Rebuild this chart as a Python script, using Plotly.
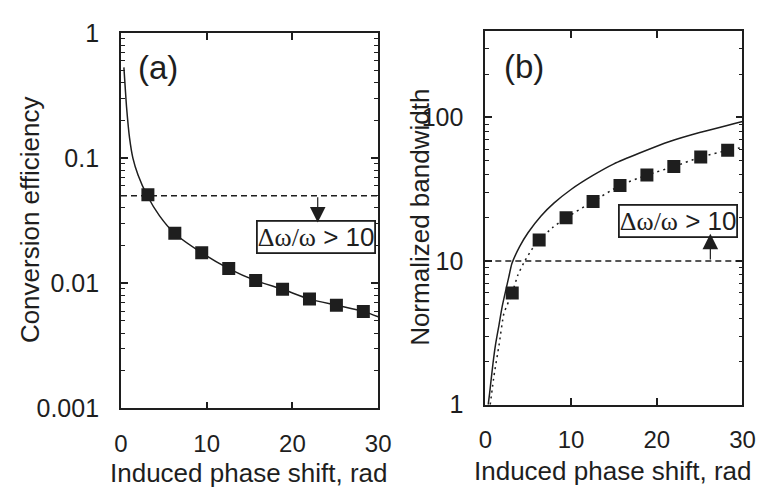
import numpy as np
import plotly.graph_objects as go

# ---------------- data ----------------
# Panel (a): conversion efficiency
a_curve_x = [0.34, 0.5, 0.65, 1.0, 1.39, 2.0, 3.07, 4.5, 6.2, 9.42, 12.57, 15.71, 18.85, 21.99, 25.13, 28.27, 30.0]
a_curve_y = [0.53, 0.36, 0.256, 0.145, 0.10, 0.073, 0.050, 0.0345, 0.0252, 0.0175, 0.0131, 0.0105, 0.00895, 0.00747, 0.00667, 0.00596, 0.0054]
a_sq_x = [3.14, 6.28, 9.42, 12.57, 15.71, 18.85, 21.99, 25.13, 28.27]
a_sq_y = [0.0509, 0.0251, 0.0175, 0.0131, 0.0105, 0.00895, 0.00747, 0.00667, 0.00596]
a_limit = 0.05

# Panel (b): normalized bandwidth
b_solid_x = [0.34, 0.5, 0.65, 0.9, 1.2, 1.6, 1.97, 2.4, 2.73, 3.1, 4.0, 5.0, 6.5, 8.0, 10.0, 12.5, 15.0, 18.0, 21.5, 25.0, 30.0]
b_solid_y = [1.0, 1.2, 1.44, 1.95, 2.64, 3.6, 4.83, 6.3, 7.7, 9.6, 12.6, 15.8, 20.6, 25.3, 31.5, 39.3, 47.5, 56.5, 68.0, 78.5, 93.7]
b_dot_x = [0.57, 1.02, 1.6, 2.16, 2.7, 3.14, 3.8, 4.6, 5.4, 6.28, 7.8, 9.42, 12.57, 15.71, 18.85, 21.99, 25.13, 28.27, 30.0]
b_dot_y = [1.0, 1.6, 2.6, 4.3, 5.2, 6.0, 8.0, 10.0, 12.0, 14.0, 17.0, 20.0, 26.0, 33.6, 39.7, 45.5, 53.0, 59.0, 61.8]
b_sq_x = [3.14, 6.28, 9.42, 12.57, 15.71, 18.85, 21.99, 25.13, 28.27]
b_sq_y = [6.0, 14.0, 20.0, 26.0, 33.6, 39.7, 45.5, 53.0, 59.0]
b_limit = 10

x_ticks = [0, 10, 20, 30]
a_yticks = [0.001, 0.01, 0.1, 1]
a_yticktext = ["0.001", "0.01", "0.1", "1"]
b_yticks = [1, 10, 100]
b_yticktext = ["1", "10", "100"]

W, H = 774, 497
INK = "#1e1e1e"
FONT = "Liberation Sans, Arial, sans-serif"

fig = go.Figure()

# panel (a)
fig.add_trace(go.Scatter(x=a_curve_x, y=a_curve_y, mode="lines", line=dict(color=INK, width=1.5, shape="spline", smoothing=0.6),
                         xaxis="x", yaxis="y", showlegend=False))
fig.add_trace(go.Scatter(x=[0, 30], y=[a_limit, a_limit], mode="lines", line=dict(color=INK, width=1.5, dash="6px,4px"),
                         xaxis="x", yaxis="y", showlegend=False))
fig.add_trace(go.Scatter(x=a_sq_x, y=a_sq_y, mode="markers", marker=dict(symbol="square", size=13, color=INK),
                         xaxis="x", yaxis="y", showlegend=False))

# panel (b)
fig.add_trace(go.Scatter(x=b_solid_x, y=b_solid_y, mode="lines", line=dict(color=INK, width=1.5, shape="spline", smoothing=0.5),
                         xaxis="x2", yaxis="y2", showlegend=False))
fig.add_trace(go.Scatter(x=b_dot_x, y=b_dot_y, mode="lines", line=dict(color=INK, width=1.5, dash="2px,4px", shape="spline", smoothing=0.5),
                         xaxis="x2", yaxis="y2", showlegend=False))
fig.add_trace(go.Scatter(x=[0, 30], y=[b_limit, b_limit], mode="lines", line=dict(color=INK, width=1.5, dash="6px,4px"),
                         xaxis="x2", yaxis="y2", showlegend=False))
fig.add_trace(go.Scatter(x=b_sq_x, y=b_sq_y, mode="markers", marker=dict(symbol="square", size=13, color=INK),
                         xaxis="x2", yaxis="y2", showlegend=False))

def minor_vals(decades):
    out = []
    for d in decades:
        for m in range(2, 10):
            out.append(m * d)
    return out

common_x = dict(range=[0, 30], tickvals=x_ticks, ticks="inside", ticklen=7, tickwidth=1.5, tickcolor=INK,
                showline=True, linewidth=1.8, linecolor=INK, mirror="allticks", showgrid=False, zeroline=False,
                tickfont=dict(size=24, color=INK, family=FONT), ticklabelstandoff=13)
common_y = dict(type="log", ticks="inside", ticklen=7, tickwidth=1.5, tickcolor=INK,
                showline=True, linewidth=1.8, linecolor=INK, mirror="allticks", showgrid=False, zeroline=False,
                tickfont=dict(size=25, color=INK, family=FONT), ticklabelstandoff=15)

fig.update_layout(
    width=W, height=H, margin=dict(l=0, r=0, t=0, b=0),
    paper_bgcolor="white", plot_bgcolor="white",
    font=dict(family=FONT, color=INK),
    xaxis=dict(domain=[117 / W, 381 / W], anchor="y", **common_x),
    yaxis=dict(domain=[1 - 418 / H, 1 - 20 / H], anchor="x", range=[-3, 0], tickvals=a_yticks, ticktext=a_yticktext,
               minor=dict(tickvals=minor_vals([0.001, 0.01, 0.1]), ticks="inside", ticklen=4, tickwidth=1.2, tickcolor=INK),
               **common_y),
    xaxis2=dict(domain=[491 / W, 755 / W], anchor="y2", **common_x),
    yaxis2=dict(domain=[1 - 414 / H, 1 - 18 / H], anchor="x2", range=[0, np.log10(400)], tickvals=b_yticks, ticktext=b_yticktext,
                minor=dict(tickvals=minor_vals([1, 10]) + [200, 300], ticks="inside", ticklen=4, tickwidth=1.2, tickcolor=INK),
                **common_y),
)

box_text = '<span style="font-family:Liberation Serif, Times New Roman, serif">Δω/ω</span> &gt; 10'
ann = []
# panel labels
ann.append(dict(text="(a)", x=155 / W, y=1 - 57 / H, xref="paper", yref="paper", showarrow=False,
                font=dict(size=33, color=INK, family=FONT), xanchor="center", yanchor="middle"))
ann.append(dict(text="(b)", x=531 / W, y=1 - 56 / H, xref="paper", yref="paper", showarrow=False,
                font=dict(size=33, color=INK, family=FONT), xanchor="center", yanchor="middle"))
# axis titles
ann.append(dict(text="Induced phase shift, rad", x=248 / W, y=1 - 486 / H, xref="paper", yref="paper", showarrow=False,
                font=dict(size=26, color=INK, family=FONT), xanchor="center", yanchor="middle", borderpad=0))
ann.append(dict(text="Induced phase shift, rad", x=622 / W, y=1 - 484 / H, xref="paper", yref="paper", showarrow=False,
                font=dict(size=26, color=INK, family=FONT), xanchor="center", yanchor="middle", borderpad=0))
ann.append(dict(text="Conversion efficiency", x=23 / W, y=1 - 218 / H, xref="paper", yref="paper", showarrow=False,
                textangle=-90, font=dict(size=26, color=INK, family=FONT), xanchor="center", yanchor="middle"))
ann.append(dict(text="Normalized bandwidth", x=424 / W, y=1 - 216 / H, xref="paper", yref="paper", showarrow=False,
                textangle=-90, font=dict(size=26, color=INK, family=FONT), xanchor="center", yanchor="middle"))
# boxes
ann.append(dict(text=box_text, x=317.5 / W, y=1 - 236 / H, xref="paper", yref="paper", showarrow=False,
                font=dict(size=26, color=INK, family=FONT), bordercolor=INK, borderwidth=1.8, borderpad=0,
                bgcolor="white", xanchor="center", yanchor="middle"))
ann.append(dict(text=box_text, x=689 / W, y=1 - 219 / H, xref="paper", yref="paper", showarrow=False,
                font=dict(size=26, color=INK, family=FONT), bordercolor=INK, borderwidth=1.8, borderpad=0,
                bgcolor="white", xanchor="center", yanchor="middle"))
# arrows (log axes: annotation y in log10 units)
ann.append(dict(text="", x=22.95, y=np.log10(0.0305), ax=22.95, ay=np.log10(a_limit), xref="x", yref="y",
                axref="x", ayref="y", showarrow=True, arrowhead=2, arrowsize=2.6, arrowwidth=1.2, arrowcolor=INK))
ann.append(dict(text="", x=26.25, y=np.log10(15.5), ax=26.25, ay=np.log10(b_limit), xref="x2", yref="y2",
                axref="x2", ayref="y2", showarrow=True, arrowhead=2, arrowsize=2.6, arrowwidth=1.2, arrowcolor=INK))
fig.update_layout(annotations=ann)

fig.write_html("out.html")
